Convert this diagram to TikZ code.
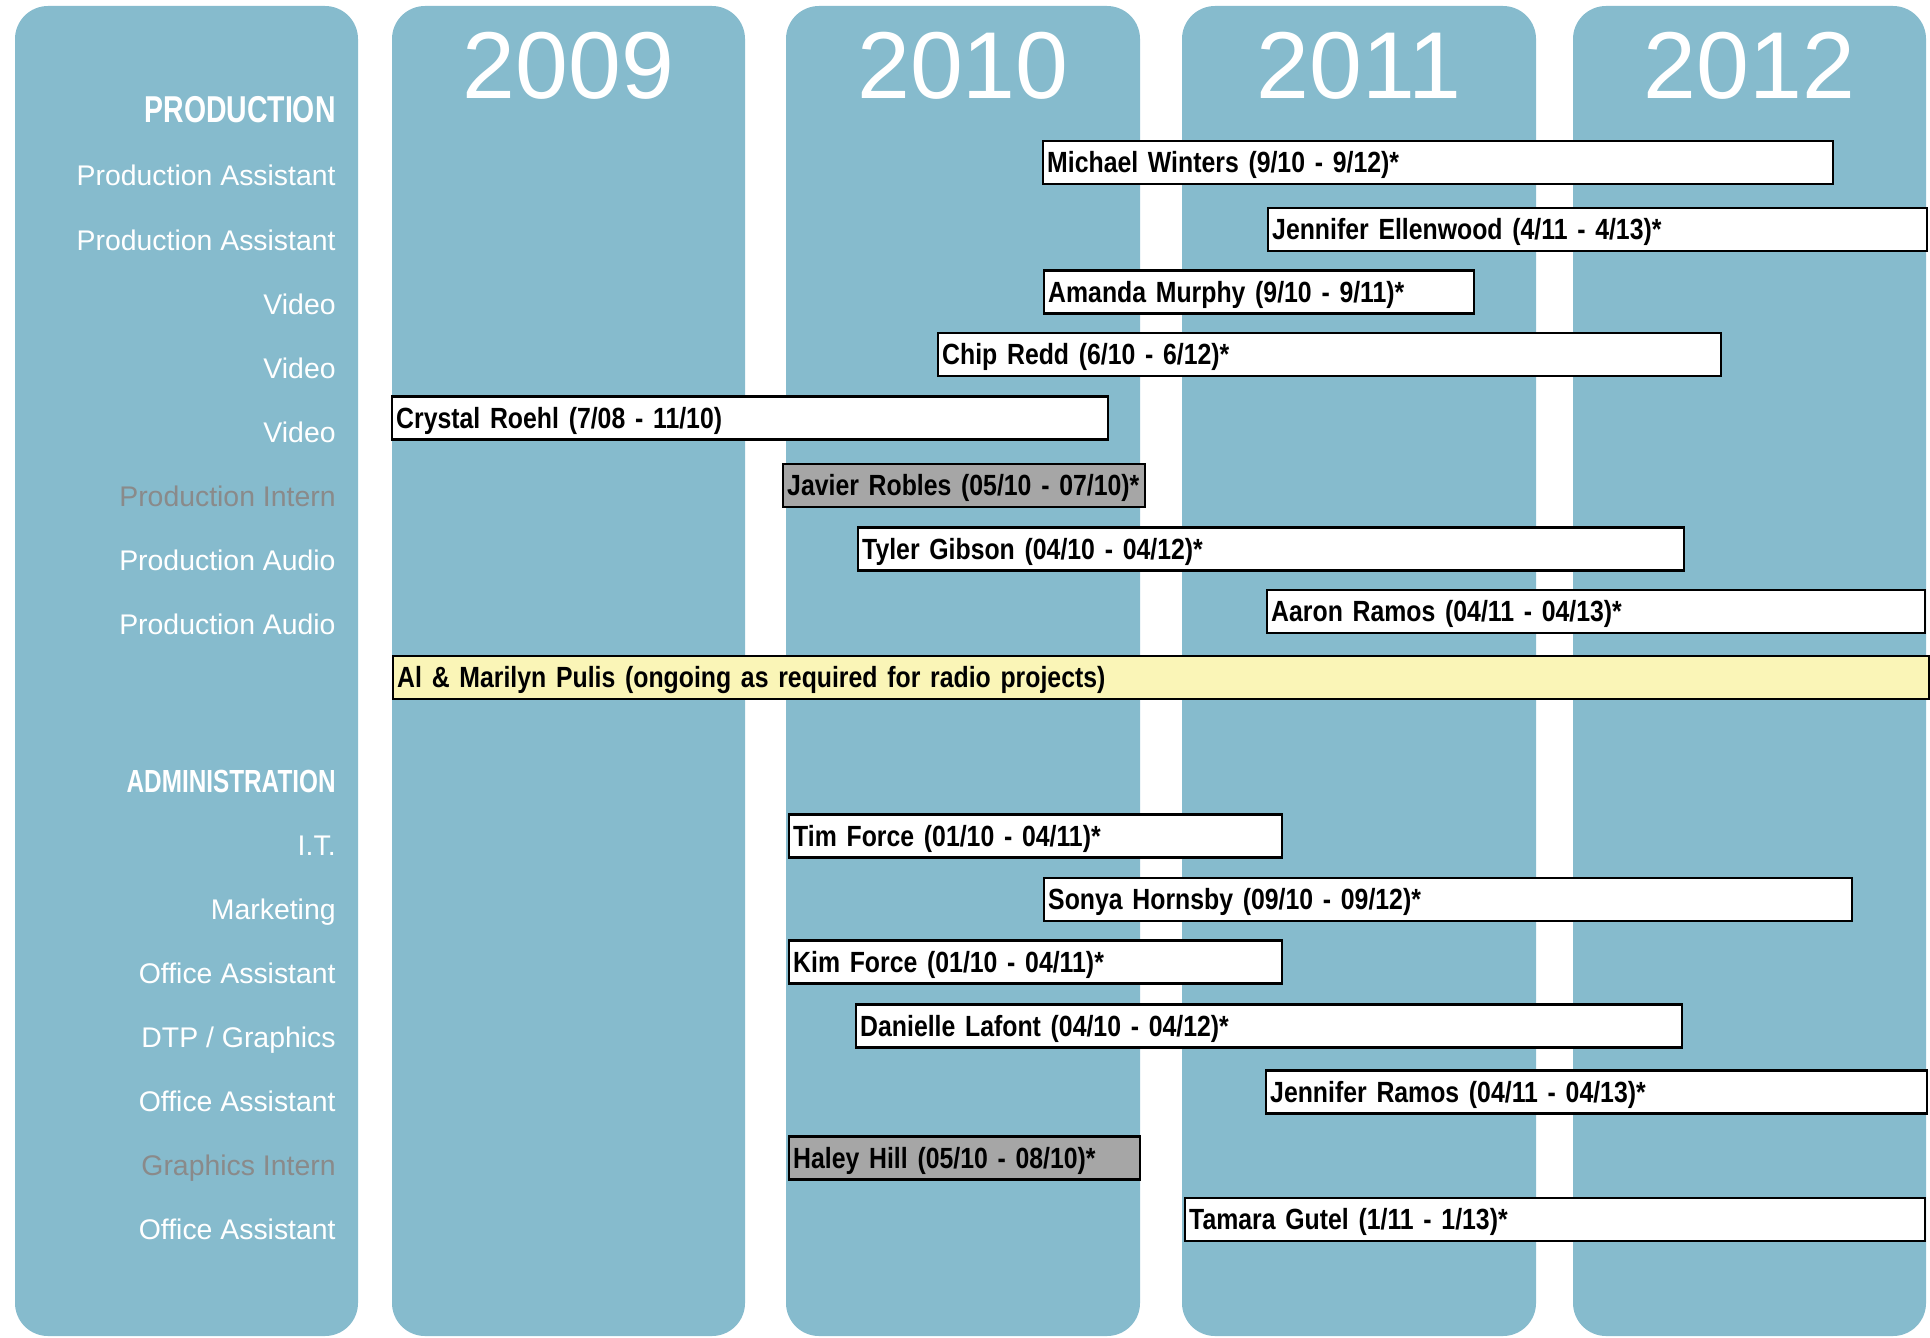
\documentclass[tikz,border=0pt]{standalone}
\usepackage{fontspec}
\setmainfont{Liberation Sans}
\newfontfamily\barfont[FakeStretch=0.85]{Liberation Sans}
\newfontfamily\headfont[FakeStretch=0.76]{Liberation Sans}
\usepackage{xcolor}
\usepackage[]{tikz}
\usetikzlibrary{positioning}
\definecolor{colBlue}{HTML}{86BBCD}
\definecolor{internGrey}{HTML}{8A8A8A}
\definecolor{barGrey}{HTML}{A6A6A6}
\definecolor{radioYellow}{HTML}{FAF5B7}
\tikzstyle{yearTxt}=[anchor=base, text=white, inner sep=0pt, font=\fontsize{47.5}{50}\selectfont]
\tikzstyle{headTxt}=[anchor=base east, text=white, inner sep=0pt]
\tikzstyle{roleTxt}=[anchor=base east, text=white, inner sep=0pt, font=\fontsize{14.2}{16}\selectfont]
\tikzstyle{internTxt}=[roleTxt, text=internGrey]
\tikzstyle{barW}=[draw=black, line width=1.2pt, fill=white, anchor=west, minimum height=21.5pt, inner xsep=2pt, inner ysep=0pt, text height=11pt, text depth=0.6pt, align=left, font=\barfont\bfseries\fontsize{14.6}{16}\selectfont]
\tikzstyle{barG}=[barW, fill=barGrey]
\tikzstyle{barY}=[barW, fill=radioYellow]

\begin{document}
\begin{tikzpicture}[x=0.5pt, y=-0.5pt]
      \useasboundingbox (0,0) rectangle (1930,1337);
      % columns
      \fill[colBlue, rounded corners=16.5pt] (15,6) rectangle (358,1336);
      \foreach \xa/\xb/\yr in {392/745/2009, 786/1140/2010, 1182/1536/2011, 1573/1926/2012}{
        \fill[colBlue, rounded corners=16.5pt] (\xa,6) rectangle (\xb,1336);
        \node[yearTxt] (y\yr) at ({(\xa+\xb)/2},99) {\yr};
      }
      % roles
      \node[headTxt, font=\headfont\bfseries\fontsize{18.7}{20}\selectfont] (prod) at (336,123) {PRODUCTION};
      \node[roleTxt] (pa1) at (336,186) {Production Assistant};
      \node[roleTxt] (pa2) at (336,250) {Production Assistant};
      \node[roleTxt] (vid1) at (336,314) {Video};
      \node[roleTxt] (vid2) at (336,378) {Video};
      \node[roleTxt] (vid3) at (336,442) {Video};
      \node[internTxt] (pint) at (336,506) {Production Intern};
      \node[roleTxt] (aud1) at (336,570) {Production Audio};
      \node[roleTxt] (aud2) at (336,634) {Production Audio};
      \node[headTxt, font=\headfont\bfseries\fontsize{16}{18}\selectfont] (admin) at (336,792) {ADMINISTRATION};
      \node[roleTxt] (it) at (336,855) {I.T.};
      \node[roleTxt] (mkt) at (336,919) {Marketing};
      \node[roleTxt] (oa1) at (336,983) {Office Assistant};
      \node[roleTxt] (dtp) at (336,1047) {DTP / Graphics};
      \node[roleTxt] (oa2) at (336,1111) {Office Assistant};
      \node[internTxt] (gint) at (336,1175) {Graphics Intern};
      \node[roleTxt] (oa3) at (336,1239) {Office Assistant};
      % people
      \node[barW, text width=391pt] (winters) at (1042,162.5) {Michael Winters (9/10 - 9/12)*};
      \node[barW, text width=325.5pt] (ellenwood) at (1267,229.5) {Jennifer Ellenwood (4/11 - 4/13)*};
      \node[barW, text width=211pt] (murphy) at (1043,292) {Amanda Murphy (9/10 - 9/11)*};
      \node[barW, text width=387.5pt] (redd) at (937,354.5) {Chip Redd (6/10 - 6/12)*};
      \node[barW, text width=354pt] (roehl) at (391,418) {Crystal Roehl (7/08 - 11/10)};
      \node[barG, text width=177pt] (robles) at (782,485.5) {Javier Robles (05/10 - 07/10)*};
      \node[barW, text width=409pt] (gibson) at (857,549) {Tyler Gibson (04/10 - 04/12)*};
      \node[barW, text width=325pt] (aramos) at (1266,611.5) {Aaron Ramos (04/11 - 04/13)*};
      \node[barY, text width=764pt] (pulis) at (392,677.5) {Al \& Marilyn Pulis (ongoing as required for radio projects)};
      \node[barW, text width=242.5pt] (tforce) at (788,836) {Tim Force (01/10 - 04/11)*};
      \node[barW, text width=400pt] (hornsby) at (1043,899.5) {Sonya Hornsby (09/10 - 09/12)*};
      \node[barW, text width=242.5pt] (kforce) at (788,962) {Kim Force (01/10 - 04/11)*};
      \node[barW, text width=409pt] (lafont) at (855,1026) {Danielle Lafont (04/10 - 04/12)*};
      \node[barW, text width=326.5pt] (jramos) at (1265,1092) {Jennifer Ramos (04/11 - 04/13)*};
      \node[barG, text width=171.5pt] (hill) at (788,1158) {Haley Hill (05/10 - 08/10)*};
      \node[barW, text width=366pt] (gutel) at (1184,1219.5) {Tamara Gutel (1/11 - 1/13)*};
    \end{tikzpicture}
\end{document}
